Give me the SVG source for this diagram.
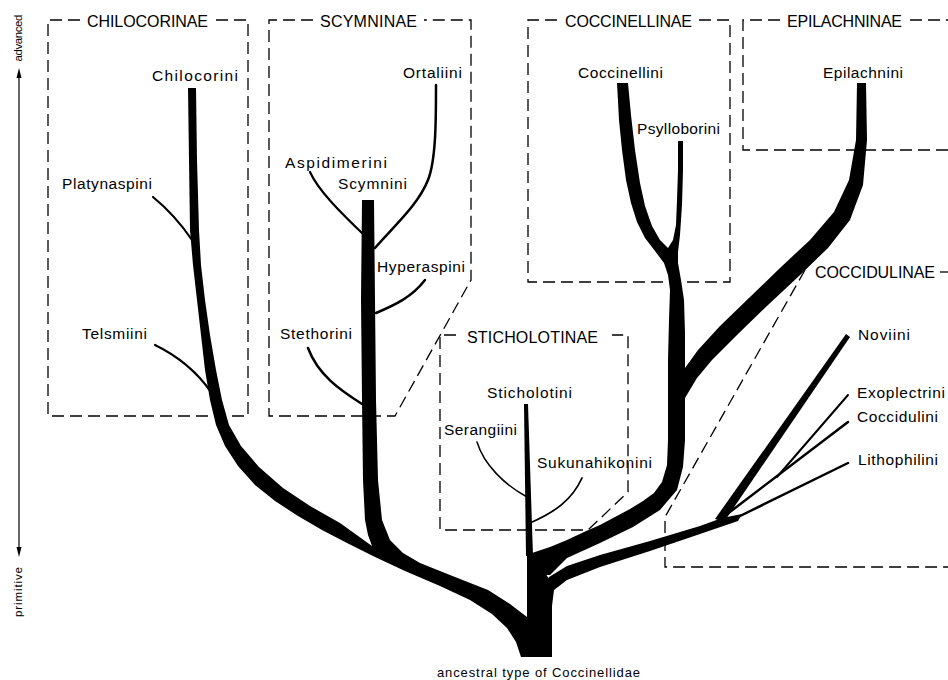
<svg xmlns="http://www.w3.org/2000/svg" width="948" height="680" viewBox="0 0 948 680">
<defs>
<style>
.t{font-family:"Liberation Sans",Arial,sans-serif;font-size:15.5px;fill:#000}
.h{font-family:"Liberation Sans",Arial,sans-serif;font-size:16px;fill:#000}
.a{font-family:"Liberation Sans",Arial,sans-serif;font-size:11.5px;fill:#000}
.box{fill:none;stroke:#000;stroke-width:1.3;stroke-dasharray:12 6}
.br{fill:#000;stroke:none}
.tw{fill:none;stroke:#000;stroke-linecap:round}
</style>
</defs>
<rect width="948" height="680" fill="#fff"/>

<g id="axis">
<line x1="19" y1="76" x2="19" y2="550" stroke="#000" stroke-width="1.2"/>
<polygon points="19,68 16.5,78 21.5,78" fill="#000"/>
<polygon points="19,557 16.5,547 21.5,547" fill="#000"/>
<text class="a" transform="translate(22,38) rotate(-90)" text-anchor="middle" textLength="47">advanced</text>
<text class="a" transform="translate(22,592) rotate(-90)" text-anchor="middle" textLength="50">primitive</text>
</g>

<g id="chilocorinae">
<path class="box" d="M80,20 H48 V416 H248 V20 H212"/>
<text class="h" x="87" y="27" textLength="121">CHILOCORINAE</text>
</g>
<g id="scymninae">
<path class="box" d="M313,20 H269 V416 H395 L471,280 V20 H424"/>
<text class="h" x="320" y="27" textLength="97">SCYMNINAE</text>
</g>
<g id="sticholotinae">
<path class="box" d="M456,335 H440 V530 H588 L628,492 V335 H612"/>
<text class="h" x="467" y="343" textLength="131">STICHOLOTINAE</text>
</g>
<g id="coccinellinae">
<path class="box" d="M557,20 H528 V282 H730 V20 H699"/>
<text class="h" x="565" y="27" textLength="127">COCCINELLINAE</text>
</g>
<g id="epilachninae">
<path class="box" d="M780,20 H743 V150 H948"/>
<path class="box" d="M910,20 H948"/>
<text class="h" x="787" y="27" textLength="115">EPILACHNINAE</text>
</g>
<g id="coccidulinae">
<path class="box" d="M805,270 L665,517 V567 H948"/>
<path class="box" d="M940,272 H948"/>
<text class="h" x="815" y="278" textLength="120">COCCIDULINAE</text>
</g>

<g id="connectors">
<path class="br" d="M188,88 L189,160 L190,230 L193,265 L197,300 L201,335 L205,370 L210,400 L216,425 L225,446 L238,466 L255,485 L275,501 L298,516 L322,530 L347,543 L375,557 L405,571 L440,586 L470,600 L492,614 L507,628 L516,642 L521,657 L552,657 L552,600 L550,580 L540,566 L533,556 L527,556 L527,617 L510,604 L488,590 L455,577 L420,563 L403,553 L390,540 L382,520 L378,480 L376,400 L375,300 L374,200 L362,200 L361,300 L362,400 L363,480 L365,520 L368,535 L372,546 L340,523 L310,506 L283,488 L259,467 L241,446 L229,425 L222,400 L216,370 L210,335 L205,300 L201,265 L199,230 L197,160 L196,88 Z"/>
<path class="br" d="M617,83 L619,120 L622,150 L626,180 L631,203 L637,222 L645,238 L655,251 L664,263 L668,275 L670,290 L669,320 L668,360 L668,440 L667,465 L662,482 L654,493 L643,501 L630,509 L615,517 L600,525 L584,532 L567,540 L550,547 L532,553 L532,575 L550,575 L567,558 L600,543 L633,527 L660,510 L677,490 L683,467 L685,440 L685,400 L685,333 L684,300 L681,280 L678,263 L678,252 L680,235 L682,205 L683,170 L683,141 L678,141 L678,170 L677,200 L676,225 L673,240 L668,248 L660,240 L652,226 L645,206 L640,183 L635,150 L631,115 L628,83 Z"/>
<path class="br" d="M857,83 L866,83 L867,140 L863,185 L850,220 L828,248 L798,277 L768,305 L738,334 L712,360 L697,378 L685,398 L680,398 L680,368 L685,368 L698,350 L720,326 L750,297 L780,268 L810,240 L834,212 L849,180 L856,140 Z"/>
<path class="br" d="M549,577 L567,566 L600,555 L650,541 L700,526 L722,518 L742,514 L738,521 L700,534 L650,551 L600,567 L567,580 L554,590 L552,606 L546,590 Z"/>
<path class="br" d="M524,404 L528,404 L533,556 L526,556 Z"/>
<path class="br" d="M715,519 L846,334 L850,337 L724,522 Z"/>
<path class="tw" stroke-width="2.5" d="M848,422 L722,518"/>
<path class="tw" stroke-width="2" d="M848,395 L777,477"/>
<path class="tw" stroke-width="2.5" d="M848,463 L736,518"/>
<path class="tw" stroke-width="2.2" d="M153,197 Q175,215 192,240"/>
<path class="tw" stroke-width="2.2" d="M155,345 Q190,362 211,392"/>
<path class="tw" stroke-width="2.2" d="M310,172 C318,190 340,212 363,234"/>
<path class="tw" stroke-width="2.5" d="M436,85 C436,120 436,160 428,180 C418,205 395,225 375,248"/>
<path class="tw" stroke-width="2.5" d="M425,280 C412,297 395,305 376,313"/>
<path class="tw" stroke-width="2.5" d="M308,348 C318,375 340,390 362,404"/>
<path class="tw" stroke-width="1.5" d="M477,442 C484,465 505,485 527,497"/>
<path class="tw" stroke-width="1.8" d="M582,478 C572,500 555,512 530,523"/>
</g>

<g id="tribes">
<g id="chilocorini"><text class="t" x="152" y="81" textLength="86">Chilocorini</text></g>
<g id="platynaspini"><text class="t" x="62" y="189" textLength="90">Platynaspini</text></g>
<g id="telsmiini"><text class="t" x="82" y="339" textLength="65">Telsmiini</text></g>
<g id="aspidimerini"><text class="t" x="285" y="168" textLength="102">Aspidimerini</text></g>
<g id="scymnini"><text class="t" x="338" y="189" textLength="69">Scymnini</text></g>
<g id="ortaliini"><text class="t" x="403" y="78" textLength="59">Ortaliini</text></g>
<g id="hyperaspini"><text class="t" x="377" y="272" textLength="88">Hyperaspini</text></g>
<g id="stethorini"><text class="t" x="280" y="339" textLength="72">Stethorini</text></g>
<g id="sticholotini"><text class="t" x="487" y="398" textLength="85">Sticholotini</text></g>
<g id="serangiini"><text class="t" x="444" y="435" textLength="73">Serangiini</text></g>
<g id="sukunahikonini"><text class="t" x="537" y="468" textLength="115">Sukunahikonini</text></g>
<g id="coccinellini"><text class="t" x="578" y="78" textLength="85">Coccinellini</text></g>
<g id="psylloborini"><text class="t" x="637" y="134" textLength="83">Psylloborini</text></g>
<g id="epilachnini"><text class="t" x="823" y="78" textLength="80">Epilachnini</text></g>
<g id="noviini"><text class="t" x="858" y="340" textLength="52">Noviini</text></g>
<g id="exoplectrini"><text class="t" x="857" y="398" textLength="88">Exoplectrini</text></g>
<g id="coccidulini"><text class="t" x="857" y="422" textLength="81">Coccidulini</text></g>
<g id="lithophilini"><text class="t" x="858" y="465" textLength="80">Lithophilini</text></g>
<g id="ancestor"><text class="t" style="font-size:13px" x="437" y="677" textLength="203">ancestral type of Coccinellidae</text></g>
</g>
</svg>
